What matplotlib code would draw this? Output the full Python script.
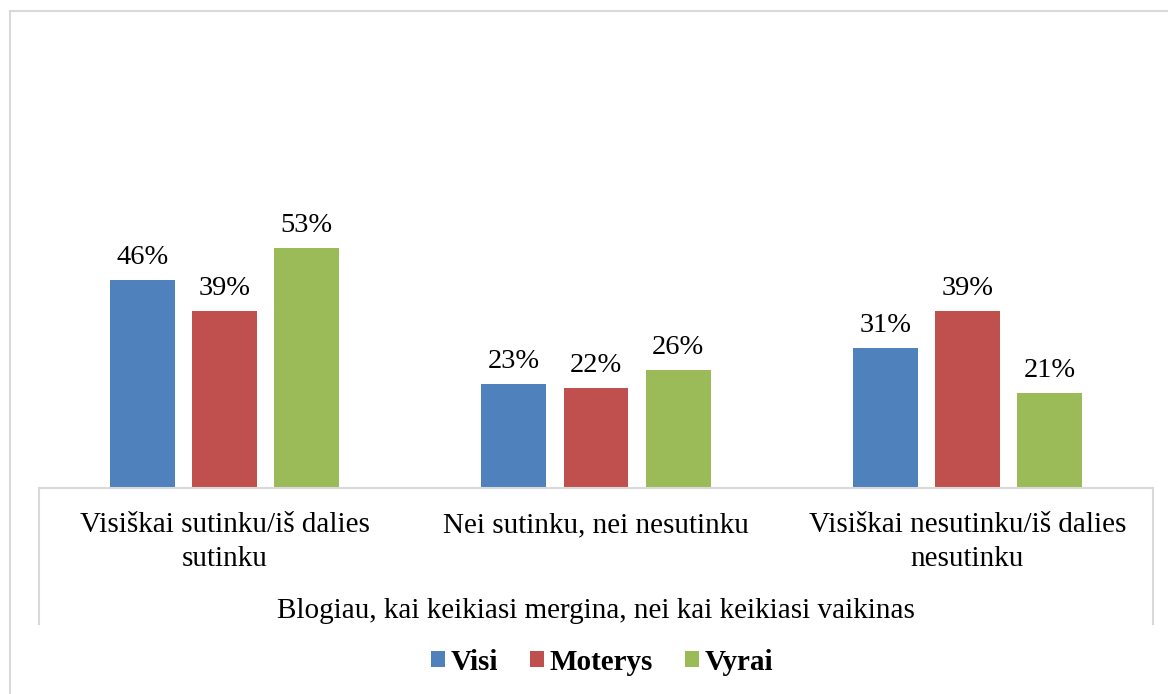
import matplotlib.pyplot as plt
from matplotlib.lines import Line2D
from matplotlib.patches import Rectangle
import numpy as np

# Data (percent)
categories = ["Visiškai sutinku/iš dalies\nsutinku",
              "Nei sutinku, nei nesutinku",
              "Visiškai nesutinku/iš dalies\nnesutinku"]
series_names = ["Visi", "Moterys", "Vyrai"]
visi = [46, 23, 31]
moterys = [39, 22, 39]
vyrai = [53, 26, 21]
axis_title = "Blogiau, kai keikiasi mergina, nei kai keikiasi vaikinas"

colors = ["#4F81BD", "#C0504D", "#9BBB59"]
grid_col = "#d9d9d9"

plt.rcParams['font.family'] = ['Liberation Serif', 'DejaVu Serif']

W, H = 1168, 694
fig = plt.figure(figsize=(W / 100, H / 100), dpi=100)

# outer chart frame (extends past right/bottom edges)
fig.patches.append(Rectangle((10 / W, -0.05), 1.2, 1 - 11 / H + 0.05,
                             transform=fig.transFigure, fill=False,
                             edgecolor=grid_col, lw=1.5))

ax_l, ax_r, ax_b, ax_t = 39, 1153, 488, 42
ax = fig.add_axes([ax_l / W, 1 - ax_b / H, (ax_r - ax_l) / W, (ax_b - ax_t) / H])

x = np.arange(len(categories))
w = 0.175
step = 0.221
for k, (name, vals) in enumerate(zip(series_names, [visi, moterys, vyrai])):
    bars = ax.bar(x + (k - 1) * step, vals, width=w, color=colors[k], label=name)
    for b, v in zip(bars, vals):
        ax.text(b.get_x() + b.get_width() / 2, v + 2.2, f"{v}%",
                ha="center", va="bottom", fontsize=20.5)

ax.set_xlim(-0.5, 2.5)
ax.set_ylim(0, 98.5)
ax.set_xticks([])
ax.set_yticks([])
for s in ["top", "left", "right"]:
    ax.spines[s].set_visible(False)
ax.spines["bottom"].set_color(grid_col)
ax.spines["bottom"].set_linewidth(1.5)

# category-axis box sides
for xp in (ax_l, ax_r):
    fig.lines.append(Line2D([xp / W, xp / W], [1 - ax_b / H, 1 - 624 / H],
                            transform=fig.transFigure, color=grid_col, lw=1.5))

ah = ax_b - ax_t
tr = ax.get_xaxis_transform()
for i, c in enumerate(categories):
    ax.text(i, -24 / ah, c, transform=tr, ha="center", va="top",
            fontsize=21, linespacing=1.38)
ax.text(1, -(611 - ax_b) / ah, axis_title, transform=tr, ha="center",
        va="center", fontsize=21)

leg = fig.legend(loc="center", bbox_to_anchor=(602 / W, 1 - 662 / H), ncol=3,
                 frameon=False, prop={"weight": "bold", "size": 21},
                 handlelength=0.48, handleheight=0.48, handletextpad=0.2,
                 columnspacing=1.1)

fig.savefig("out.png", dpi=100)
